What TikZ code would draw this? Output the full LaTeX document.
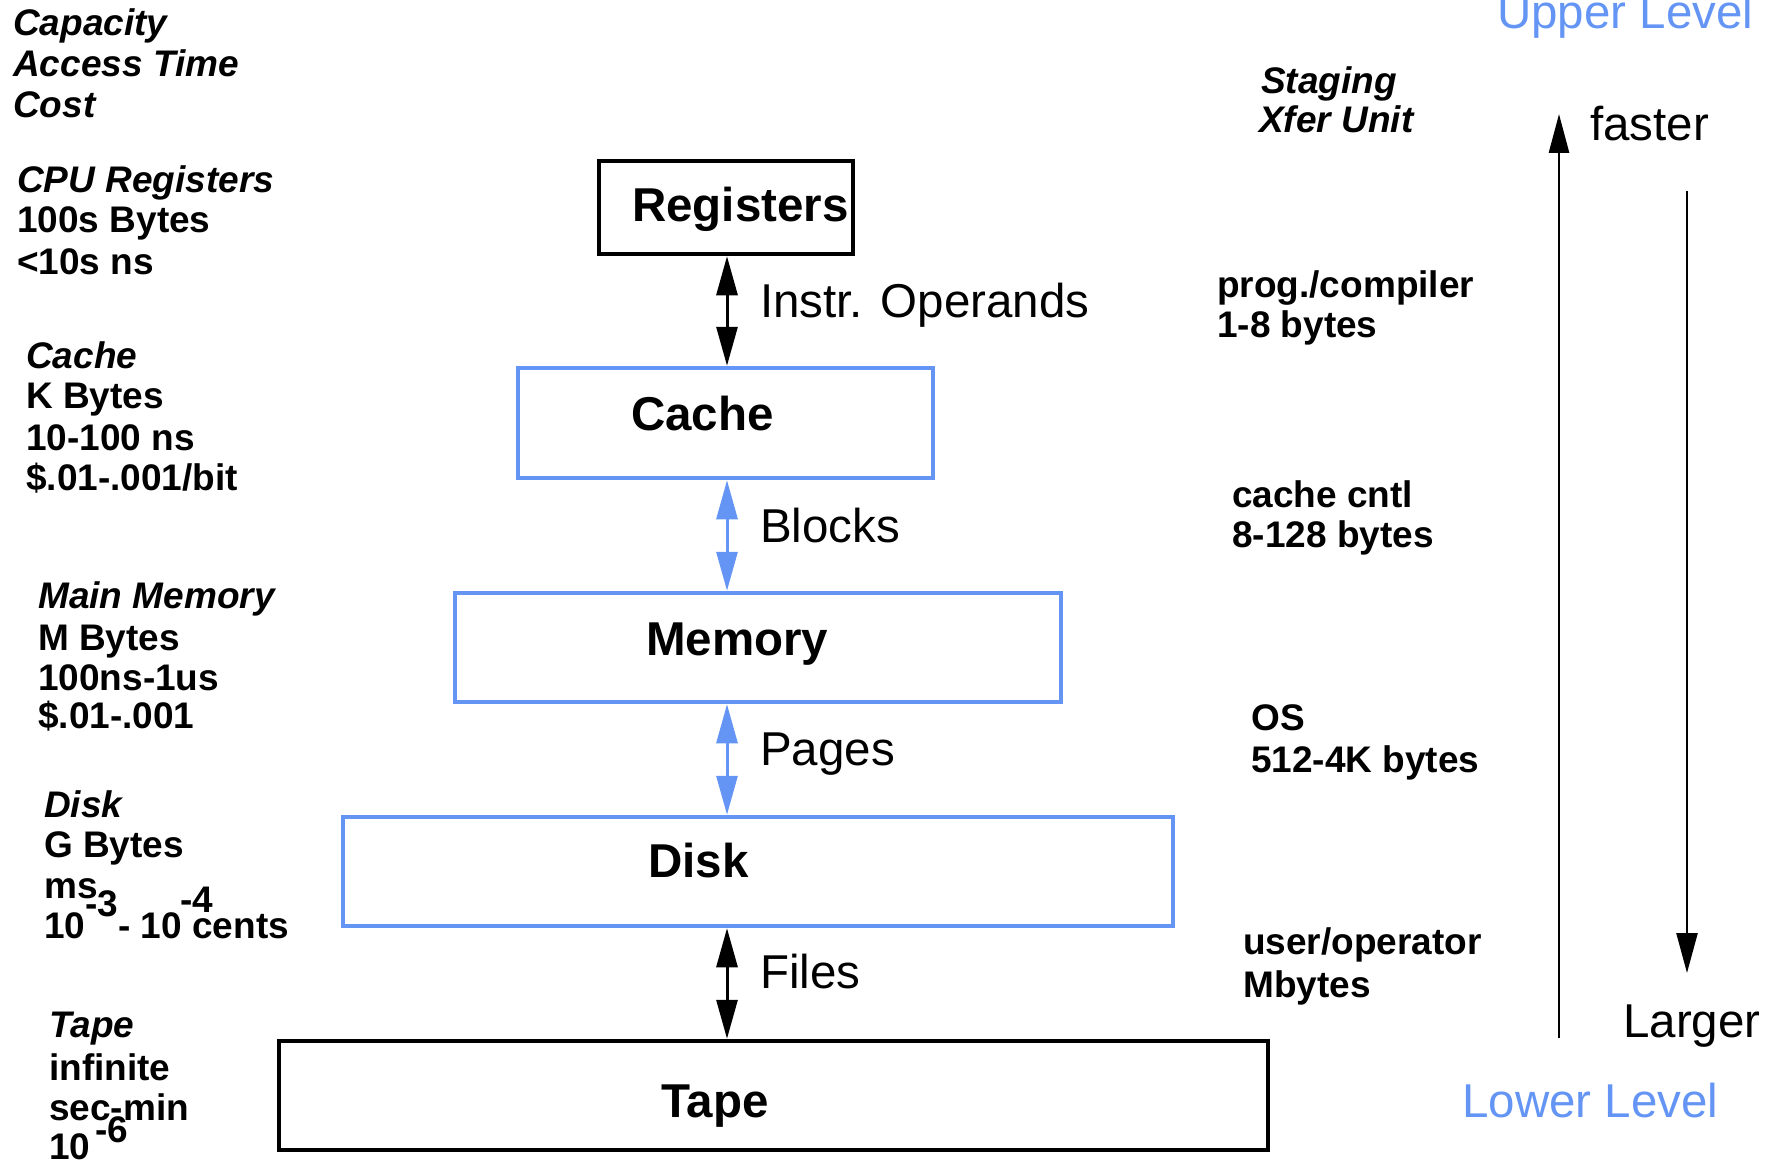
\documentclass[tikz,border=0pt]{standalone}
\usepackage{fontspec}
\setmainfont{Liberation Sans}
\usetikzlibrary{arrows.meta}
\definecolor{lvlblue}{RGB}{100,149,245}
\begin{document}
\begin{tikzpicture}[x=1pt,y=-1pt,
  sm/.style={anchor=base west,inner sep=0pt,font=\fontsize{37}{44}\selectfont\bfseries},
  smi/.style={sm,font=\fontsize{37}{44}\selectfont\bfseries\itshape},
  big/.style={anchor=base west,inner sep=0pt,font=\fontsize{47.5}{57}\selectfont},
  bigb/.style={big,font=\fontsize{47.5}{57}\selectfont\bfseries},
  boxk/.style={draw=black,line width=4.5pt,inner sep=0pt},
  boxb/.style={draw=lvlblue,line width=4.5pt,inner sep=0pt},
  dbl/.style={{Triangle[length=39pt,width=21pt]}-{Triangle[length=39pt,width=21pt]},line width=3pt},
]
\useasboundingbox (0,0) rectangle (1778,1161);
% boxes
\node[boxk,minimum width=254pt,minimum height=93pt] (reg) at (726,207.5) {};
\node[boxb,minimum width=415pt,minimum height=110pt] (cache) at (725.5,423) {};
\node[boxb,minimum width=606pt,minimum height=109pt] (mem) at (758,647.5) {};
\node[boxb,minimum width=830pt,minimum height=109pt] (disk) at (758,871.5) {};
\node[boxk,minimum width=989pt,minimum height=109pt] (tape) at (773.5,1095.5) {};
% box labels
\node[bigb] (tReg) at (632,222) {Registers};
\node[bigb] (tCache) at (631,430) {Cache};
\node[bigb] (tMem) at (646,655) {Memory};
\node[bigb] (tDisk) at (648,877) {Disk};
\node[bigb] (tTape) at (661,1117) {Tape};
% connectors
\coordinate (ax) at (727,0);
\draw[dbl] (ax |- reg.south) -- (ax |- cache.north);
\draw[dbl,draw=lvlblue,fill=lvlblue] (ax |- cache.south) -- (ax |- mem.north);
\draw[dbl,draw=lvlblue,fill=lvlblue] (ax |- mem.south) -- (ax |- disk.north);
\draw[dbl] (ax |- disk.south) -- (ax |- tape.north);
% connector labels
\node[big] (lInstr) at (760,317) {Instr. Operands};
\node[big] (lBlocks) at (760,542) {Blocks};
\node[big] (lPages) at (760,765) {Pages};
\node[big] (lFiles) at (760,988) {Files};
% left column
\node[smi] (a1) at (13,36) {Capacity};
\node[smi] (a2) at (13,77) {Access Time};
\node[smi] (a3) at (13,118) {Cost};
\node[smi] (b1) at (17,193) {CPU Registers};
\node[sm] (b2) at (17,233) {100s Bytes};
\node[sm] (b3) at (17,275) {<10s ns};
\node[smi] (c1) at (26,368) {Cache};
\node[sm] (c2) at (26,408) {K Bytes};
\node[sm] (c3) at (26,450) {10-100 ns};
\node[sm] (c4) at (26,490) {\$.01-.001/bit};
\node[smi] (d1) at (38,608) {Main Memory};
\node[sm] (d2) at (38,650) {M Bytes};
\node[sm] (d3) at (38,690) {100ns-1us};
\node[sm] (d4) at (38,728) {\$.01-.001};
\node[smi] (e1) at (44,817) {Disk};
\node[sm] (e2) at (44,857) {G Bytes};
\node[sm] (e3) at (44,898) {ms};
\node[sm] (e4) at (44,938) {10\raisebox{.57em}{-3}- 10\rlap{\kern-2pt\raisebox{.7em}{-4}} cents};
\node[smi] (f1) at (49,1037) {Tape};
\node[sm] (f2) at (49,1080) {infinite};
\node[sm] (f3) at (49,1120) {sec-min};
\node[sm] (f4) at (49,1159) {10\kern5pt\raisebox{.45em}{-6}};
% right column
\node[smi] (g1) at (1261,94) {Staging};
\node[smi] (g2) at (1259,133) {Xfer Unit};
\node[sm] (h1) at (1217,297) {prog./compiler};
\node[sm] (h2) at (1217,337) {1-8 bytes};
\node[sm] (i1) at (1232,507) {cache cntl};
\node[sm] (i2) at (1232,547) {8-128 bytes};
\node[sm] (j1) at (1251,730) {OS};
\node[sm] (j2) at (1251,772) {512-4K bytes};
\node[sm] (k1) at (1243,954) {user/operator};
\node[sm] (k2) at (1243,997) {Mbytes};
\node[big,text=lvlblue] (up) at (1497,29) {Upper Level};
\node[big] (fast) at (1590,141) {faster};
\node[big] (larg) at (1623,1037) {Larger};
\node[big,text=lvlblue] (low) at (1462,1117) {Lower Level};
% side arrows
\coordinate (upB) at (1559,1038);
\coordinate (upT) at (1559,114);
\coordinate (dnT) at (1687,191);
\coordinate (dnB) at (1687,973);
\draw[-{Triangle[length=39pt,width=20pt]},line width=2.8pt] (upB) -- (upT);
\draw[-{Triangle[length=40pt,width=21pt]},line width=2.5pt] (dnT) -- (dnB);
\end{tikzpicture}
\end{document}
